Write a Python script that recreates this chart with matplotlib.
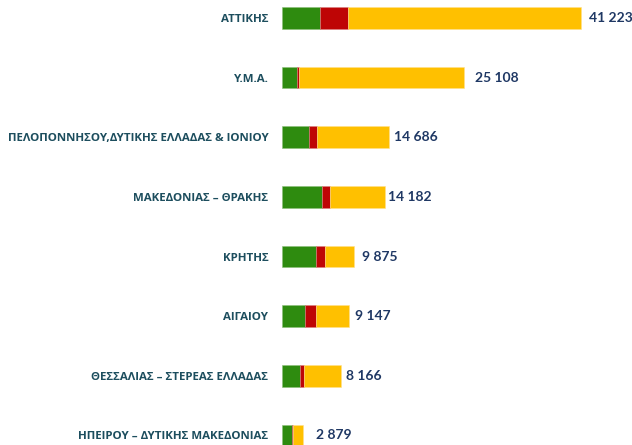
import matplotlib.pyplot as plt
import numpy as np

plt.rcParams['font.family'] = ['Open Sans', 'DejaVu Sans']

# Categories, top to bottom.
regions = ['ΑΤΤΙΚΗΣ', 'Υ.Μ.Α.', 'ΠΕΛΟΠΟΝΝΗΣΟΥ,ΔΥΤΙΚΗΣ ΕΛΛΑΔΑΣ & ΙΟΝΙΟΥ',
           'ΜΑΚΕΔΟΝΙΑΣ – ΘΡΑΚΗΣ', 'ΚΡΗΤΗΣ', 'ΑΙΓΑΙΟΥ',
           'ΘΕΣΣΑΛΙΑΣ – ΣΤΕΡΕΑΣ ΕΛΛΑΔΑΣ', 'ΗΠΕΙΡΟΥ – ΔΥΤΙΚΗΣ ΜΑΚΕΔΟΝΙΑΣ']
totals = [41223, 25108, 14686, 14182, 9875, 9147, 8166, 2879]
green_vals = [5207, 2072, 3729, 5483, 4612, 3177, 2444, 1298]
red_vals = [3910, 276, 1020, 1150, 1330, 1520, 510, 220]
yellow_vals = [t - g - r for t, g, r in zip(totals, green_vals, red_vals)]

# Gap (points) between bar end and its value label, as in the original.
label_pad = [6, 8, 4, 2, 6, 5, 3, 9]

fig = plt.figure(figsize=(6.32, 4.45), dpi=100)
ax = fig.add_axes([282.3 / 632, 0, (632 - 282.3) / 632, 1])

y = np.arange(len(regions))
h = 0.364
ax.barh(y, green_vals, height=h, color='#2E8B0F', edgecolor='#8CC07A', linewidth=0.4)
ax.barh(y, red_vals, left=green_vals, height=h, color='#BE0505',
        edgecolor='#D98080', linewidth=0.4)
left_y = [g + r for g, r in zip(green_vals, red_vals)]
ax.barh(y, yellow_vals, left=left_y, height=h, color='#FFC000',
        edgecolor='#FFE08A', linewidth=0.4)

# Value labels with a space as thousands separator.
for i, t in enumerate(totals):
    ax.annotate(f"{t:,}".replace(',', ' '), xy=(t, i), xytext=(label_pad[i], 0),
                textcoords='offset points', va='center', ha='left',
                fontsize=10, fontweight='bold', color='#1F3864',
                family=['Lato', 'Open Sans', 'DejaVu Sans'])

ax.set_yticks(y)
ax.set_yticklabels(regions, fontsize=8.25, fontweight='bold', color='#1D4E5E')
ax.tick_params(axis='y', length=0, pad=10)
ax.set_xticks([])
ax.set_xlim(0, 48290)
ax.set_ylim(7.16, -0.30)
for s in ax.spines.values():
    s.set_visible(False)

fig.savefig('out.png', dpi=100)
